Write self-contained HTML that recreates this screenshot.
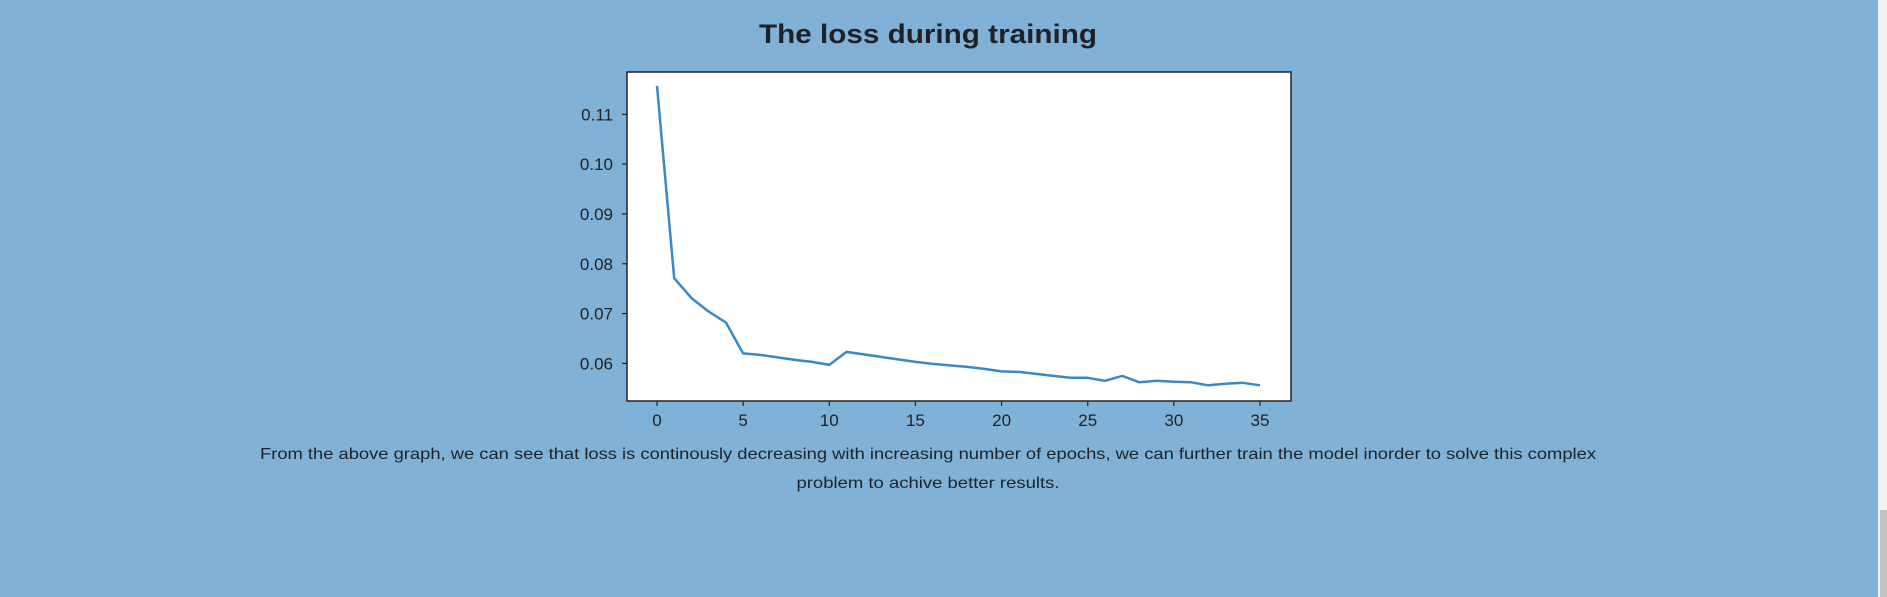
<!DOCTYPE html>
<html><head><meta charset="utf-8"><style>
html,body{margin:0;padding:0;background:#80b2d7;width:1887px;height:597px;overflow:hidden}
svg{display:block}
</style></head><body>
<svg id="page" width="1887" height="597" xmlns="http://www.w3.org/2000/svg" font-family="'Liberation Sans', sans-serif">
<rect x="0" y="0" width="1887" height="597" fill="#80b2d7"/>
<rect x="1878" y="0" width="9" height="597" fill="#f1f1f1"/>
<rect x="1880" y="510" width="7" height="87" fill="#c1c1c1"/>
<text x="928" y="43" text-anchor="middle" font-size="27" font-weight="bold" fill="#1e2226" textLength="338" lengthAdjust="spacingAndGlyphs">The loss during training</text>
<g id="chart"></g>
<text x="928" y="459" text-anchor="middle" font-size="16" fill="#1e2226" textLength="1336" lengthAdjust="spacingAndGlyphs">From the above graph, we can see that loss is continously decreasing with increasing number of epochs, we can further train the model inorder to solve this complex</text>
<text x="928" y="488" text-anchor="middle" font-size="16" fill="#1e2226" textLength="263" lengthAdjust="spacingAndGlyphs">problem to achive better results.</text>
</svg>
<script>
const epochs = [0,1,2,3,4,5,6,7,8,9,10,11,12,13,14,15,16,17,18,19,20,21,22,23,24,25,26,27,28,29,30,31,32,33,34,35];
const lossValues = [0.1157,0.0771,0.0731,0.0704,0.0682,0.0620,0.0617,0.0612,0.0607,0.0603,0.0597,0.0623,0.0618,0.0613,0.0608,0.0603,0.0599,0.0596,0.0593,0.0589,0.0584,0.0583,0.0579,0.0575,0.0571,0.0571,0.0565,0.0575,0.0562,0.0565,0.0563,0.0562,0.0556,0.0559,0.0561,0.0556];
const xTicks = [0,5,10,15,20,25,30,35];
const yTicks = [0.06,0.07,0.08,0.09,0.10,0.11];
const yTickLabels = ["0.06","0.07","0.08","0.09","0.10","0.11"];

const NS = "http://www.w3.org/2000/svg";
const g = document.getElementById("chart");
const L = 627, R = 1291, T = 72, B = 401;
function xs(v){ return 657 + (v - 0) * (1260 - 657) / 35; }
function ys(v){ return 363.4 - (v - 0.06) * (363.4 - 114.3) / 0.05; }
function mk(tag, attrs){ const e = document.createElementNS(NS, tag); for (const k in attrs) e.setAttribute(k, attrs[k]); g.appendChild(e); return e; }

const plot = mk("rect", {x:L, y:T, width:R-L, height:B-T, fill:"#ffffff", stroke:"#222", "stroke-width":1.5});



xTicks.forEach(v => {
  const t = mk("line", {x1:xs(v), x2:xs(v), y1:B, y2:B+5, stroke:"#222", "stroke-width":1.2});
  
  
  const lb = mk("text", {x:xs(v), y:B+25, "text-anchor":"middle", "font-size":17, fill:"#222"});
  lb.textContent = String(v);
  
  
});
yTicks.forEach((v, i) => {
  const t = mk("line", {x1:L-5, x2:L, y1:ys(v), y2:ys(v), stroke:"#222", "stroke-width":1.2});
  
  
  const lb = mk("text", {x:L-14, y:ys(v)+6, "text-anchor":"end", "font-size":17, fill:"#222"});
  lb.textContent = yTickLabels[i];
  
  
});
const pts = epochs.map((e, i) => xs(e).toFixed(1) + "," + ys(lossValues[i]).toFixed(1)).join(" ");
const line = mk("polyline", {points:pts, fill:"none", stroke:"#3a88c5", "stroke-width":2.5, "stroke-linejoin":"round"});


</script>
</body></html>
